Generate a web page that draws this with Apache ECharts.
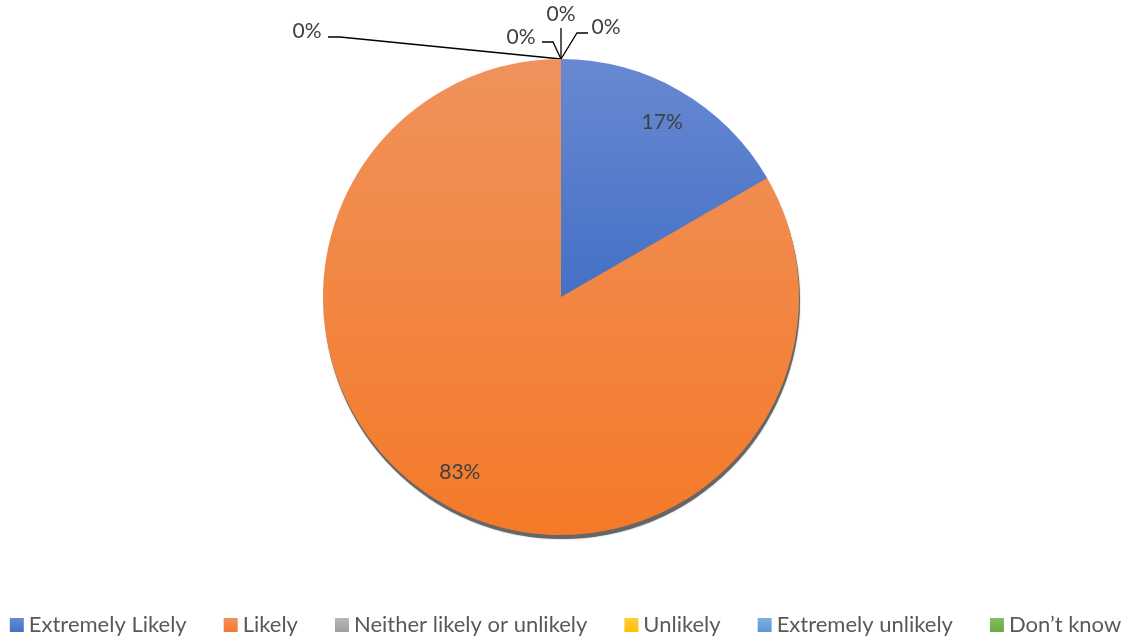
<!DOCTYPE html>
<html>
<head>
<meta charset="utf-8">
<script src="https://cdn.jsdelivr.net/npm/echarts@6/dist/echarts.min.js"></script>
<style>
  html, body { margin: 0; padding: 0; background: #fff; }
  #main { width: 1131px; height: 642px; }
</style>
</head>
<body>
<div id="main"></div>
<script>
// answers (counts): 1 of 6 -> 17%, 5 of 6 -> 83%
var categories = ["Extremely Likely", "Likely", "Neither likely or unlikely", "Unlikely", "Extremely unlikely", "Don\u2019t know"];
var counts = [1, 5, 0, 0, 0, 0];

// colours: [top, bottom] of each gradient
var colorList = [
  ["#6889d1", "#4470c6"],
  ["#f0925d", "#f47a28"],
  ["#b8b8b8", "#9e9e9e"],
  ["#ffcb45", "#ffbf00"],
  ["#7eb0de", "#5898d6"],
  ["#86bb63", "#6aab40"]
];

var cx = 561, cy = 297, r = 238;
var font = "Lato";

// where Excel parked the 0% labels, as offsets from the top of the pie
var zeroSpots = [
  { dx: -254, dy: -28, line: [[0, 0], [-221, -22], [-233, -22]] },
  { dx: -40, dy: -22, line: [[0, 0], [-8, -17], [-19, -17]] },
  { dx: 0, dy: -45, line: [[0, 0], [0, -31]] },
  { dx: 45, dy: -32, line: [[0, 0], [16, -26], [27, -26]] }
];

var total = counts.reduce(function (a, b) { return a + b; }, 0);

var myChart = echarts.init(document.getElementById("main"));

var seriesData = categories.map(function (name, i) {
  return {
    name: name,
    value: counts[i],
    itemStyle: {
      color: new echarts.graphic.LinearGradient(0, 0, 0, 1, [
        { offset: 0, color: colorList[i][0] },
        { offset: 1, color: colorList[i][1] }
      ])
    },
    labelLine: { show: counts[i] === 0 }
  };
});

myChart.setOption({
  animation: false,
  legend: {
    data: categories,
    top: 609,
    left: "center",
    icon: "rect",
    itemWidth: 14,
    itemHeight: 14,
    itemGap: 37,
    textStyle: { color: "#595959", fontSize: 22, fontFamily: font }
  },
  series: [
    {
      // drop shadow under the pie
      type: "pie",
      silent: true,
      center: [cx + 1, cy + 4],
      radius: r,
      z: 1,
      label: { show: false },
      labelLine: { show: false },
      itemStyle: { color: "#666666", shadowBlur: 2, shadowColor: "rgba(0,0,0,0.3)" },
      data: [{ name: "_shadow", value: 1 }]
    },
    {
      type: "pie",
      center: [cx, cy],
      radius: r,
      z: 2,
      startAngle: 90,
      clockwise: true,
      percentPrecision: 0,
      avoidLabelOverlap: false,
      label: {
        show: true,
        formatter: "{d}%",
        color: "#404040",
        fontSize: 21,
        fontFamily: font
      },
      labelLine: {
        show: true,
        length: 10,
        length2: 10,
        lineStyle: { color: "#000", width: 1.3 }
      },
      labelLayout: function (p) {
        var i = p.dataIndex;
        if (counts[i] > 0) {
          var before = 0;
          for (var k = 0; k < i; k++) before += counts[k];
          var mid = (before + counts[i] / 2) / total * Math.PI * 2;
          var d = r * 0.85;
          return {
            x: cx + d * Math.sin(mid),
            y: cy - d * Math.cos(mid),
            align: "center",
            verticalAlign: "middle"
          };
        }
        var zi = 0;
        for (var j = 0; j < i; j++) if (counts[j] === 0) zi++;
        var s = zeroSpots[zi];
        var tx = cx, ty = cy - r;
        return {
          x: tx + s.dx,
          y: ty + s.dy,
          align: "center",
          verticalAlign: "middle",
          labelLinePoints: s.line.map(function (pt) { return [tx + pt[0], ty + pt[1]]; })
        };
      },
      data: seriesData
    }
  ]
});
</script>
</body>
</html>
